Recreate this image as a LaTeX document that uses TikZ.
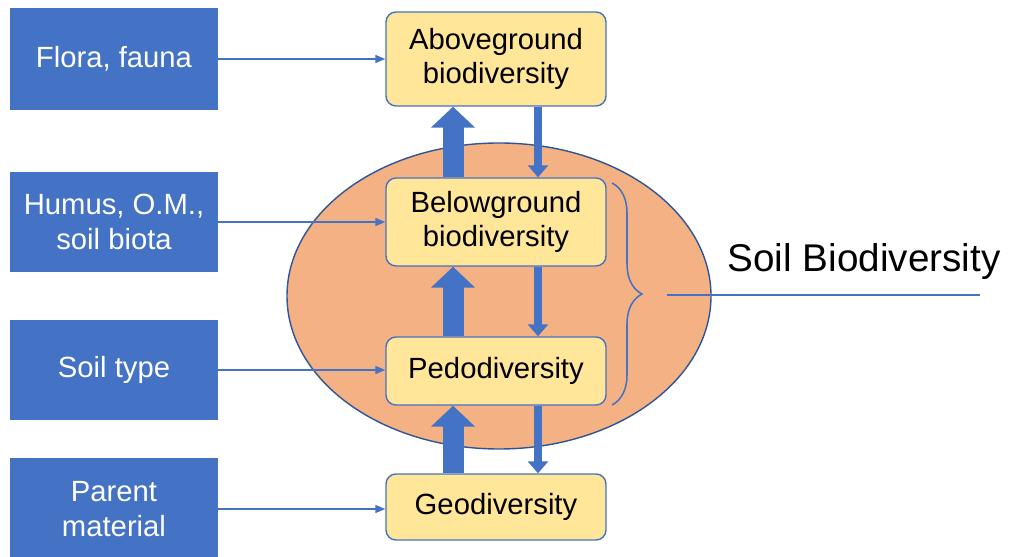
\documentclass[tikz,border=0pt]{standalone}
\usepackage{fontspec}
\setmainfont{Liberation Sans}
\usetikzlibrary{arrows.meta,decorations.pathreplacing}
\definecolor{boxblue}{HTML}{4472C4}
\definecolor{darkblue}{HTML}{2F5597}
\definecolor{lightyellow}{HTML}{FFE699}
\definecolor{soilorange}{HTML}{F4B183}
\begin{document}
\begin{tikzpicture}[
    font=\fontsize{20.8}{24.5}\selectfont,
    factor/.style={fill=boxblue, text=white, align=center, minimum width=5.2cm, inner sep=0pt},
    level/.style={fill=lightyellow, draw=boxblue, line width=1pt, rounded corners=0.25cm,
                  align=center, minimum width=5.5cm, inner sep=0pt},
    feed/.style={boxblue, line width=1.1pt, -{Triangle[length=0.25cm,width=0.2cm]}},
    upflow/.style={boxblue, line width=0.525cm, -{Triangle[length=0.525cm,width=1.075cm]}},
    downflow/.style={boxblue, line width=0.2cm, -{Triangle[length=0.3cm,width=0.5cm]}}]
    \useasboundingbox (0,0) rectangle (25.225,-13.925);
    % soil zone
    \draw[darkblue, line width=1pt, fill=soilorange] (12.475,-7.4) ellipse (5.3cm and 3.825cm);
    % driving factors
    \node[factor, minimum height=2.55cm] (flora) at (2.85,-1.475) {Flora, fauna};
    \node[factor, minimum height=2.5cm] (humus) at (2.85,-5.55) {Humus, O.M.,\\soil biota};
    \node[factor, minimum height=2.5cm] (soiltype) at (2.85,-9.25) {Soil type};
    \node[factor, minimum height=2.55cm] (parent) at (2.85,-12.725) {Parent\\material};
    % diversity levels
    \node[level, minimum height=2.35cm] (above) at (12.4,-1.475) {Aboveground\\biodiversity};
    \node[level, minimum height=2.2cm] (below) at (12.4,-5.55) {Belowground\\biodiversity};
    \node[level, minimum height=1.7cm] (pedo) at (12.4,-9.275) {Pedodiversity};
    \node[level, minimum height=1.65cm] (geo) at (12.4,-12.675) {Geodiversity};
    % inputs
    \draw[feed] (flora.east) -- (flora.east -| above.west);
    \draw[feed] (humus.east) -- (humus.east -| below.west);
    \draw[feed] (soiltype.east) -- (soiltype.east -| pedo.west);
    \draw[feed] (parent.east) -- (parent.east -| geo.west);
    % upward and downward links
    \foreach \lo/\hi in {below/above, pedo/below, geo/pedo} {
        \draw[upflow] ([xshift=-1.075cm]\lo.north) -- ([xshift=-1.075cm]\hi.south);
        \draw[downflow] ([xshift=1.05cm]\hi.south) -- ([xshift=1.05cm]\lo.north);
    }
    % soil biodiversity brace
    \draw[boxblue, line width=1.1pt, decorate, decoration={brace, amplitude=0.75cm}]
        (15.3,-4.575) -- (15.3,-10.125);
    \coordinate (tip) at (16.675,-7.375);
    \coordinate (tail) at (24.5,-7.375);
    \draw[boxblue, line width=1.1pt] (tip) -- (tail);
    \node[font=\fontsize{27.5}{32}\selectfont] (soilbio) at (21.6,-6.55) {Soil Biodiversity};
\end{tikzpicture}
\end{document}
